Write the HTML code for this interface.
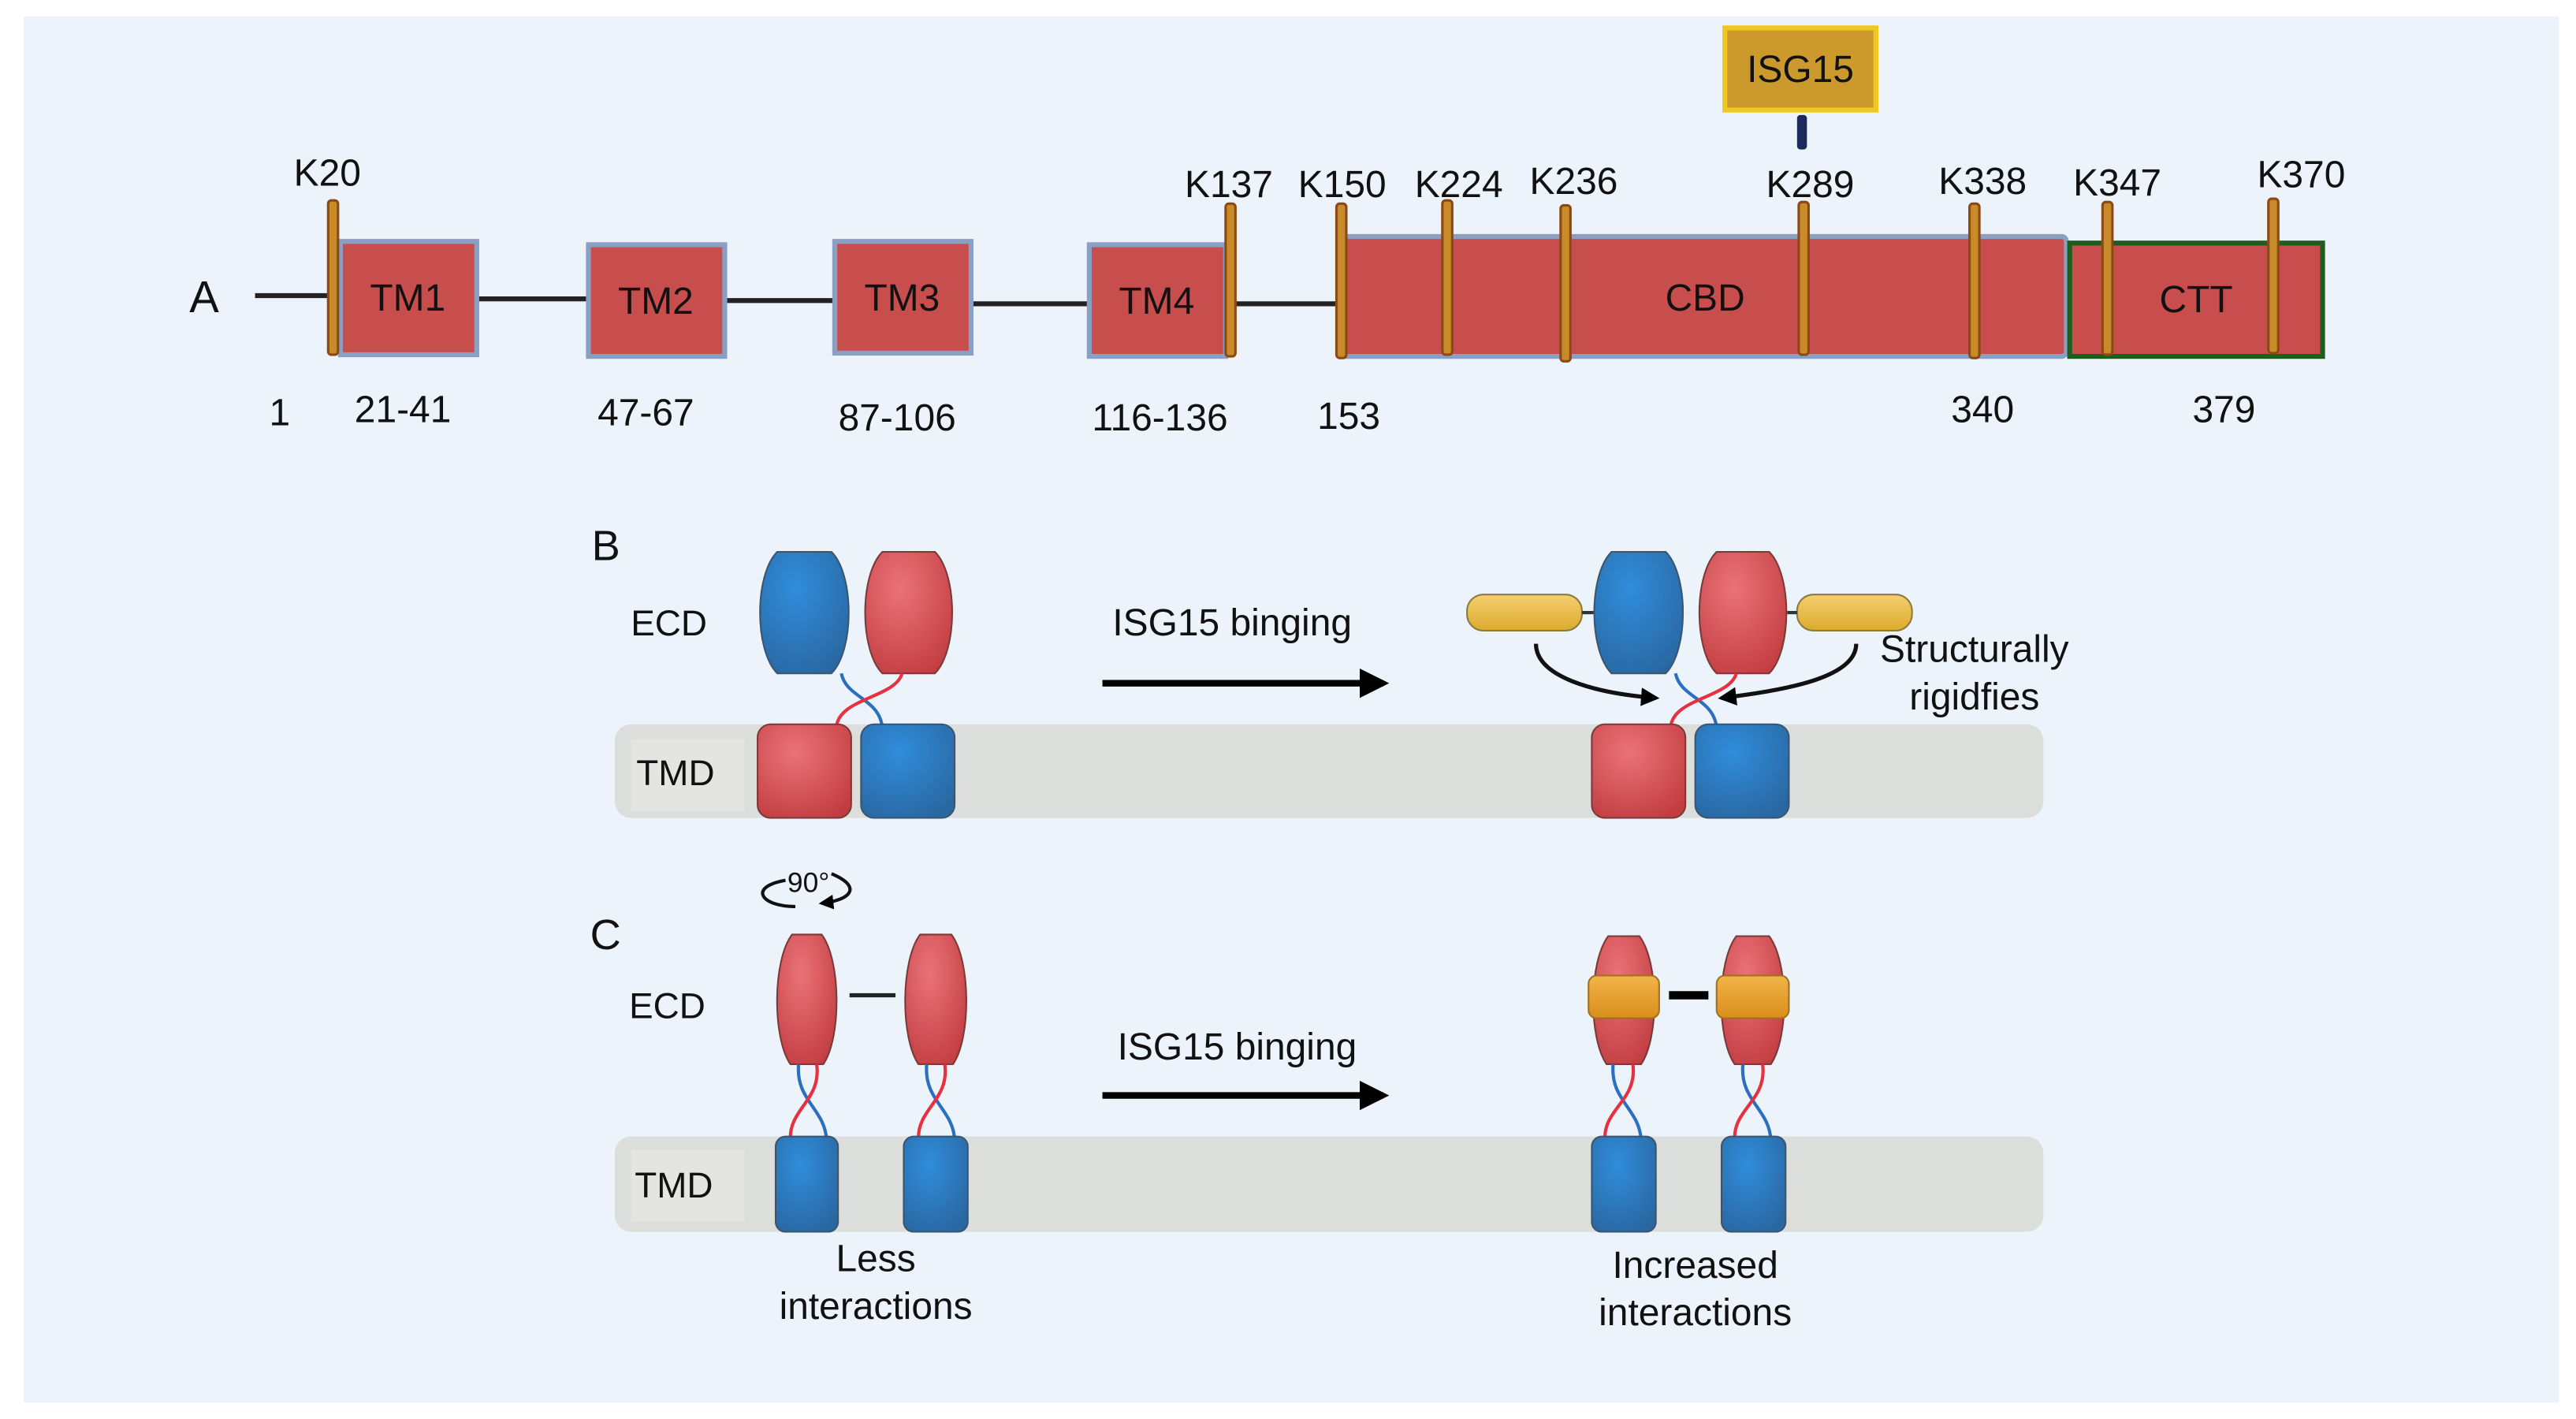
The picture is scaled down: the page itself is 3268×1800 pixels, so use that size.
<!DOCTYPE html>
<html><head><meta charset="utf-8"><style>
html,body{margin:0;padding:0;background:#fff;}
svg{display:block;}
text{font-family:"Liberation Sans",sans-serif;fill:#111;}
</style></head><body>
<svg width="3268" height="1800" viewBox="0 0 1568 864" xmlns="http://www.w3.org/2000/svg">
<defs>
<radialGradient id="gb" cx="0.4" cy="0.3" r="0.8"><stop offset="0" stop-color="#2f8ddb"/><stop offset="1" stop-color="#2a66a0"/></radialGradient>
<radialGradient id="gr" cx="0.4" cy="0.3" r="0.8"><stop offset="0" stop-color="#ea7378"/><stop offset="1" stop-color="#c13c40"/></radialGradient>
<linearGradient id="gy" x1="0" y1="0" x2="0" y2="1"><stop offset="0" stop-color="#f5d070"/><stop offset="1" stop-color="#dcaa2c"/></linearGradient>
<linearGradient id="go" x1="0" y1="0" x2="0" y2="1"><stop offset="0" stop-color="#f2b44a"/><stop offset="1" stop-color="#d98e1a"/></linearGradient>
<marker id="ah" viewBox="0 0 10 10" refX="8" refY="5" markerWidth="4.5" markerHeight="4.5" orient="auto"><path d="M0,0 L10,5 L0,10 z" fill="#000"/></marker>
</defs>
<rect x="0" y="0" width="1568" height="864" fill="#fff"/>
<rect x="14" y="10" width="1544" height="844" fill="#ecf3fb"/>

<!-- Panel A -->
<text x="115" y="190" font-size="27">A</text>
<g stroke="#222" stroke-width="3">
<line x1="155" y1="180" x2="202" y2="180"/>
<line x1="290" y1="182" x2="358" y2="182"/>
<line x1="441" y1="183" x2="508" y2="183"/>
<line x1="591" y1="185" x2="663" y2="185"/>
<line x1="749" y1="185" x2="815" y2="185"/>
</g>
<g fill="#c84d4d" stroke="#8a9fc4" stroke-width="3">
<rect x="207" y="147" width="83" height="69"/>
<rect x="358" y="149" width="83" height="68"/>
<rect x="508" y="147" width="83" height="68"/>
<rect x="663" y="149" width="83" height="68"/>
<rect x="815" y="144" width="443" height="73" rx="3"/>
</g>
<rect x="1260" y="148" width="154" height="69" fill="#c84d4d" stroke="#1d5e1d" stroke-width="3"/>
<g font-size="23" text-anchor="middle">
<text x="248" y="189">TM1</text><text x="399" y="191">TM2</text>
<text x="549" y="189">TM3</text><text x="704" y="191">TM4</text>
<text x="1038" y="189">CBD</text><text x="1337" y="190">CTT</text>
</g>
<g fill="#c98a2a" stroke="#8b4a13" stroke-width="1.5">
<rect x="199.5" y="122" width="6" height="94" rx="2"/>
<rect x="746" y="124" width="6" height="93" rx="2"/>
<rect x="813.5" y="124" width="6" height="94" rx="2"/>
<rect x="878" y="122" width="6" height="94" rx="2"/>
<rect x="950" y="125" width="6" height="95" rx="2"/>
<rect x="1095" y="123" width="6" height="93" rx="2"/>
<rect x="1199" y="124" width="6" height="94" rx="2"/>
<rect x="1280" y="123" width="6" height="93" rx="2"/>
<rect x="1381" y="121" width="6" height="94" rx="2"/>
</g>
<rect x="1050" y="17" width="92" height="50" fill="#cc9a2c" stroke="#f0c820" stroke-width="3"/>
<text x="1096" y="50" font-size="23" text-anchor="middle">ISG15</text>
<rect x="1094" y="70" width="6" height="21" rx="2" fill="#1a2a5a"/>
<g font-size="23" text-anchor="middle">
<text x="199" y="113">K20</text><text x="748" y="120">K137</text>
<text x="817" y="120">K150</text><text x="888" y="120">K224</text>
<text x="958" y="118">K236</text><text x="1102" y="120">K289</text>
<text x="1207" y="118">K338</text><text x="1289" y="119">K347</text>
<text x="1401" y="114">K370</text>
<text x="170" y="259">1</text><text x="245" y="257">21-41</text>
<text x="393" y="259">47-67</text><text x="546" y="262">87-106</text>
<text x="706" y="262">116-136</text><text x="821" y="261">153</text>
<text x="1207" y="257">340</text><text x="1354" y="257">379</text>
</g>

<!-- Panel B -->
<text x="360" y="341" font-size="26">B</text>
<rect x="374" y="441" width="870" height="57" rx="10" fill="#dcdedb"/>
<rect x="384" y="450" width="69" height="44" fill="#e4e5e3"/>
<g font-size="22" text-anchor="middle">
<text x="407" y="387">ECD</text><text x="411" y="478">TMD</text>
</g>
<path d="M473,336 L506,336 C520,350 520,396 506,410 L473,410 C459,396 459,350 473,336Z" fill="url(#gb)" stroke="#3a5570"/>
<path d="M537,336 L569,336 C583,350 583,396 569,410 L537,410 C523,396 523,350 537,336Z" fill="url(#gr)" stroke="#7a3a3a"/>
<path d="M512,410 C515,425 535,425 537,443" stroke="#2a6fc0" stroke-width="2" fill="none"/>
<path d="M549,410 C545,425 510,425 509,443" stroke="#e83040" stroke-width="2" fill="none"/>
<rect x="461" y="441" width="57" height="57" rx="8" fill="url(#gr)" stroke="#7a3a3a"/>
<rect x="524" y="441" width="57" height="57" rx="8" fill="url(#gb)" stroke="#3a5570"/>
<text x="750" y="387" font-size="23" text-anchor="middle">ISG15 binging</text>
<line x1="671" y1="416" x2="842" y2="416" stroke="#000" stroke-width="4" marker-end="url(#ah)"/>
<!-- right B -->
<rect x="893" y="362" width="70" height="22" rx="10" fill="url(#gy)" stroke="#8a7a40"/>
<rect x="1094" y="362" width="70" height="22" rx="10" fill="url(#gy)" stroke="#8a7a40"/>
<line x1="963" y1="373" x2="970" y2="373" stroke="#333" stroke-width="2"/>
<line x1="1088" y1="373" x2="1094" y2="373" stroke="#333" stroke-width="2"/>
<path d="M981,336 L1014,336 C1028,350 1028,396 1014,410 L981,410 C967,396 967,350 981,336Z" fill="url(#gb)" stroke="#3a5570"/>
<path d="M1045,336 L1077,336 C1091,350 1091,396 1077,410 L1045,410 C1031,396 1031,350 1045,336Z" fill="url(#gr)" stroke="#7a3a3a"/>
<path d="M1020,410 C1023,425 1043,425 1045,443" stroke="#2a6fc0" stroke-width="2" fill="none"/>
<path d="M1057,410 C1053,425 1018,425 1017,443" stroke="#e83040" stroke-width="2" fill="none"/>
<rect x="969" y="441" width="57" height="57" rx="8" fill="url(#gr)" stroke="#7a3a3a"/>
<rect x="1032" y="441" width="57" height="57" rx="8" fill="url(#gb)" stroke="#3a5570"/>
<path d="M935,392 C935,412 970,422 1008,425" stroke="#111" stroke-width="2.5" fill="none" marker-end="url(#ah)"/>
<path d="M1130,392 C1130,412 1090,420 1048,425" stroke="#111" stroke-width="2.5" fill="none" marker-end="url(#ah)"/>
<g font-size="23" text-anchor="middle">
<text x="1202" y="403">Structurally</text><text x="1202" y="432">rigidfies</text>
</g>

<!-- Panel C -->
<text x="359" y="578" font-size="26">C</text>
<path d="M478,536 C455,540 463,552 484,552" stroke="#111" stroke-width="2" fill="none"/>
<path d="M506,532 C525,540 518,548 500,550" stroke="#111" stroke-width="2" fill="none" marker-end="url(#ah)"/>
<text x="492" y="543" font-size="17" text-anchor="middle">90°</text>
<rect x="374" y="692" width="870" height="58" rx="10" fill="#dcdedb"/>
<rect x="384" y="700" width="69" height="44" fill="#e4e5e3"/>
<g font-size="22" text-anchor="middle">
<text x="406" y="620">ECD</text><text x="410" y="729">TMD</text>
</g>
<g>
<path d="M482,569 L500,569 C512,585 512,632 501,648 L481,648 C470,632 470,585 482,569Z" fill="url(#gr)" stroke="#7a3a3a"/>
<path d="M560,569 L579,569 C591,585 591,632 580,648 L559,648 C548,632 548,585 560,569Z" fill="url(#gr)" stroke="#7a3a3a"/>
<line x1="517" y1="606" x2="545" y2="606" stroke="#222" stroke-width="2.5"/>
<path d="M486,648 C484,670 502,675 503,694" stroke="#2a6fc0" stroke-width="2" fill="none"/>
<path d="M497,648 C500,670 480,675 481,694" stroke="#e83040" stroke-width="2" fill="none"/>
<path d="M564,648 C562,670 580,675 581,694" stroke="#2a6fc0" stroke-width="2" fill="none"/>
<path d="M575,648 C578,670 558,675 559,694" stroke="#e83040" stroke-width="2" fill="none"/>
<rect x="472" y="692" width="38" height="58" rx="6" fill="url(#gb)" stroke="#3a5570"/>
<rect x="550" y="692" width="39" height="58" rx="6" fill="url(#gb)" stroke="#3a5570"/>
</g>
<text x="753" y="645" font-size="23" text-anchor="middle">ISG15 binging</text>
<line x1="671" y1="667" x2="842" y2="667" stroke="#000" stroke-width="4" marker-end="url(#ah)"/>
<g font-size="23" text-anchor="middle">
<text x="533" y="774">Less</text><text x="533" y="803">interactions</text>
<text x="1032" y="778">Increased</text><text x="1032" y="807">interactions</text>
</g>
<!-- right C -->
<g>
<path d="M979,570 L998,570 C1010,586 1010,632 999,648 L978,648 C967,632 967,586 979,570Z" fill="url(#gr)" stroke="#7a3a3a"/>
<path d="M1057,570 L1077,570 C1089,586 1089,632 1078,648 L1056,648 C1045,632 1045,586 1057,570Z" fill="url(#gr)" stroke="#7a3a3a"/>
<rect x="967" y="594" width="43" height="26" rx="5" fill="url(#go)" stroke="#a07020"/>
<rect x="1045" y="594" width="44" height="26" rx="5" fill="url(#go)" stroke="#a07020"/>
<line x1="1016" y1="606" x2="1040" y2="606" stroke="#000" stroke-width="5"/>
<path d="M982,648 C980,670 998,675 999,694" stroke="#2a6fc0" stroke-width="2" fill="none"/>
<path d="M994,648 C997,670 976,675 977,694" stroke="#e83040" stroke-width="2" fill="none"/>
<path d="M1061,648 C1059,670 1077,675 1078,694" stroke="#2a6fc0" stroke-width="2" fill="none"/>
<path d="M1073,648 C1076,670 1055,675 1056,694" stroke="#e83040" stroke-width="2" fill="none"/>
<rect x="969" y="692" width="39" height="58" rx="6" fill="url(#gb)" stroke="#3a5570"/>
<rect x="1048" y="692" width="39" height="58" rx="6" fill="url(#gb)" stroke="#3a5570"/>
</g>
</svg>
</body></html>
